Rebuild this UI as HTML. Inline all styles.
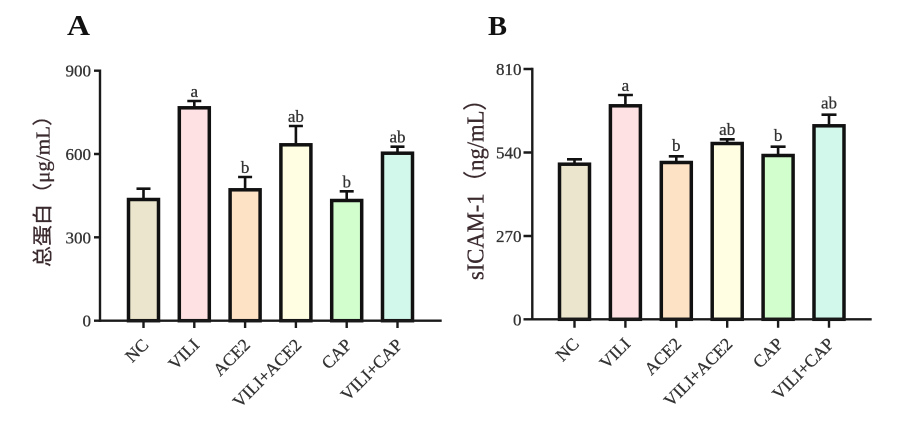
<!DOCTYPE html>
<html>
<head>
<meta charset="utf-8">
<style>
html,body{margin:0;padding:0;background:#fff;}
svg{display:block;}
text{font-family:"Liberation Serif","Noto Serif CJK SC",serif;}
</style>
</head>
<body>
<svg width="911" height="422" viewBox="0 0 911 422" xmlns="http://www.w3.org/2000/svg">
<rect width="911" height="422" fill="#fff"/>

<!-- Panel titles -->
<text x="67" y="35" font-size="28" font-weight="bold" fill="#111" textLength="23" lengthAdjust="spacingAndGlyphs">A</text>
<text x="488" y="35" font-size="27" font-weight="bold" fill="#111" textLength="19" lengthAdjust="spacingAndGlyphs">B</text>

<!-- ========== Panel A ========== -->
<g>
  <text transform="translate(49.5,186) rotate(-90)" text-anchor="middle" font-size="20" fill="#3a2a2e" stroke="#3a2a2e" stroke-width="0.3" style="font-family:'Liberation Serif','Noto Sans CJK SC',serif" textLength="162" lengthAdjust="spacingAndGlyphs">总蛋白（μg/mL）</text>

  <g stroke="#111" stroke-width="3.5">
    <rect x="128.5" y="199.5" width="30" height="121.2" fill="#ebe5cd"/>
    <rect x="179.3" y="107.8" width="30" height="212.9" fill="#fde1e3"/>
    <rect x="230.1" y="189.8" width="30" height="130.9" fill="#fde2c6"/>
    <rect x="280.9" y="144.8" width="30" height="175.9" fill="#fffee3"/>
    <rect x="331.7" y="200.5" width="30" height="120.2" fill="#d2fdcd"/>
    <rect x="382.5" y="153.2" width="30" height="167.5" fill="#d1f8ea"/>
  </g>
  <g stroke="#111" stroke-width="2.6" fill="none">
    <path d="M143.5 198 V188.7 M136.5 188.7 H150.5"/>
    <path d="M194.3 106.3 V101 M187.3 101 H201.3"/>
    <path d="M245.1 188.3 V177 M238.1 177 H252.1"/>
    <path d="M295.9 143.3 V126 M288.9 126 H302.9"/>
    <path d="M346.7 199 V191.3 M339.7 191.3 H353.7"/>
    <path d="M397.5 151.7 V146.7 M390.5 146.7 H404.5"/>
  </g>
  <g font-size="17" fill="#333" stroke="#333" stroke-width="0.3" text-anchor="middle">
    <text x="194.3" y="97">a</text>
    <text x="245.1" y="173">b</text>
    <text x="295.9" y="122">ab</text>
    <text x="346.7" y="187.3">b</text>
    <text x="397.5" y="142.7">ab</text>
  </g>
  <g stroke="#1a1a1a" stroke-width="2.4" fill="none">
    <path d="M100 69.5 V321.9"/>
    <path d="M98.8 320.7 H441.7"/>
    <path d="M94 70.7 H100 M94 154 H100 M94 237.3 H100 M94 320.7 H100"/>
    <path d="M143.5 320.7 V328 M194.3 320.7 V328 M245.1 320.7 V328 M295.9 320.7 V328 M346.7 320.7 V328 M397.5 320.7 V328"/>
  </g>
  <g font-size="17" fill="#333" stroke="#333" stroke-width="0.3" text-anchor="end">
    <text x="91" y="76.7">900</text>
    <text x="91" y="160">600</text>
    <text x="91" y="243.3">300</text>
    <text x="91" y="326.7">0</text>
  </g>
  <g font-size="17.5" fill="#333" stroke="#333" stroke-width="0.3" text-anchor="end">
    <text transform="translate(149.5,346) rotate(-45)">NC</text>
    <text transform="translate(200.3,346) rotate(-45)">VILI</text>
    <text transform="translate(251.1,346) rotate(-45)">ACE2</text>
    <text transform="translate(302.5,346) rotate(-45)">VILI+ACE2</text>
    <text transform="translate(352.7,346) rotate(-45)">CAP</text>
    <text transform="translate(403.5,346) rotate(-45)">VILI+CAP</text>
  </g>
</g>

<!-- ========== Panel B ========== -->
<g>
  <text transform="translate(483.3,184) rotate(-90)" text-anchor="middle" font-size="24" fill="#3a2a2e" stroke="#3a2a2e" stroke-width="0.3" style="font-family:'Liberation Serif','Noto Sans CJK SC',serif" textLength="192" lengthAdjust="spacingAndGlyphs">sICAM-1（ng/mL）</text>

  <g stroke="#111" stroke-width="3.5">
    <rect x="559.5" y="164.2" width="30" height="155.1" fill="#ebe5cd"/>
    <rect x="610.4" y="105.8" width="30" height="213.5" fill="#fde1e3"/>
    <rect x="661.3" y="162.5" width="30" height="156.8" fill="#fde2c6"/>
    <rect x="712.2" y="143.5" width="30" height="175.8" fill="#fffee3"/>
    <rect x="763.1" y="155.5" width="30" height="163.8" fill="#d2fdcd"/>
    <rect x="814.0" y="125.8" width="30" height="193.5" fill="#d1f8ea"/>
  </g>
  <g stroke="#111" stroke-width="2.6" fill="none">
    <path d="M574.5 162.7 V159.3 M567 159.3 H582"/>
    <path d="M625.4 104.3 V95 M617.9 95 H632.9"/>
    <path d="M676.3 161 V156.3 M668.8 156.3 H683.8"/>
    <path d="M727.2 142 V139.3 M719.7 139.3 H734.7"/>
    <path d="M778.1 154 V146.7 M770.6 146.7 H785.6"/>
    <path d="M829 124.3 V114.7 M821.5 114.7 H836.5"/>
  </g>
  <g font-size="17" fill="#333" stroke="#333" stroke-width="0.3" text-anchor="middle">
    <text x="625.4" y="91">a</text>
    <text x="676.3" y="151">b</text>
    <text x="727.2" y="135">ab</text>
    <text x="778.1" y="141">b</text>
    <text x="829" y="108.5">ab</text>
  </g>
  <g stroke="#1a1a1a" stroke-width="2.4" fill="none">
    <path d="M532.3 67.8 V320.5"/>
    <path d="M531.1 319.3 H871.7"/>
    <path d="M523.5 69 H532.3 M523.5 152.5 H532.3 M523.5 236 H532.3 M523.5 319.3 H532.3"/>
    <path d="M574.5 319.3 V327.7 M625.4 319.3 V327.7 M676.3 319.3 V327.7 M727.2 319.3 V327.7 M778.1 319.3 V327.7 M829 319.3 V327.7"/>
  </g>
  <g font-size="17" fill="#333" stroke="#333" stroke-width="0.3" text-anchor="end">
    <text x="521.5" y="75">810</text>
    <text x="521.5" y="158.5">540</text>
    <text x="521.5" y="242">270</text>
    <text x="521.5" y="325.3">0</text>
  </g>
  <g font-size="17.5" fill="#333" stroke="#333" stroke-width="0.3" text-anchor="end">
    <text transform="translate(580,345) rotate(-45)">NC</text>
    <text transform="translate(631.4,345) rotate(-45)">VILI</text>
    <text transform="translate(682.3,345) rotate(-45)">ACE2</text>
    <text transform="translate(733.5,345) rotate(-45)">VILI+ACE2</text>
    <text transform="translate(784.1,345) rotate(-45)">CAP</text>
    <text transform="translate(835,345) rotate(-45)">VILI+CAP</text>
  </g>
</g>
</svg>
</body>
</html>
